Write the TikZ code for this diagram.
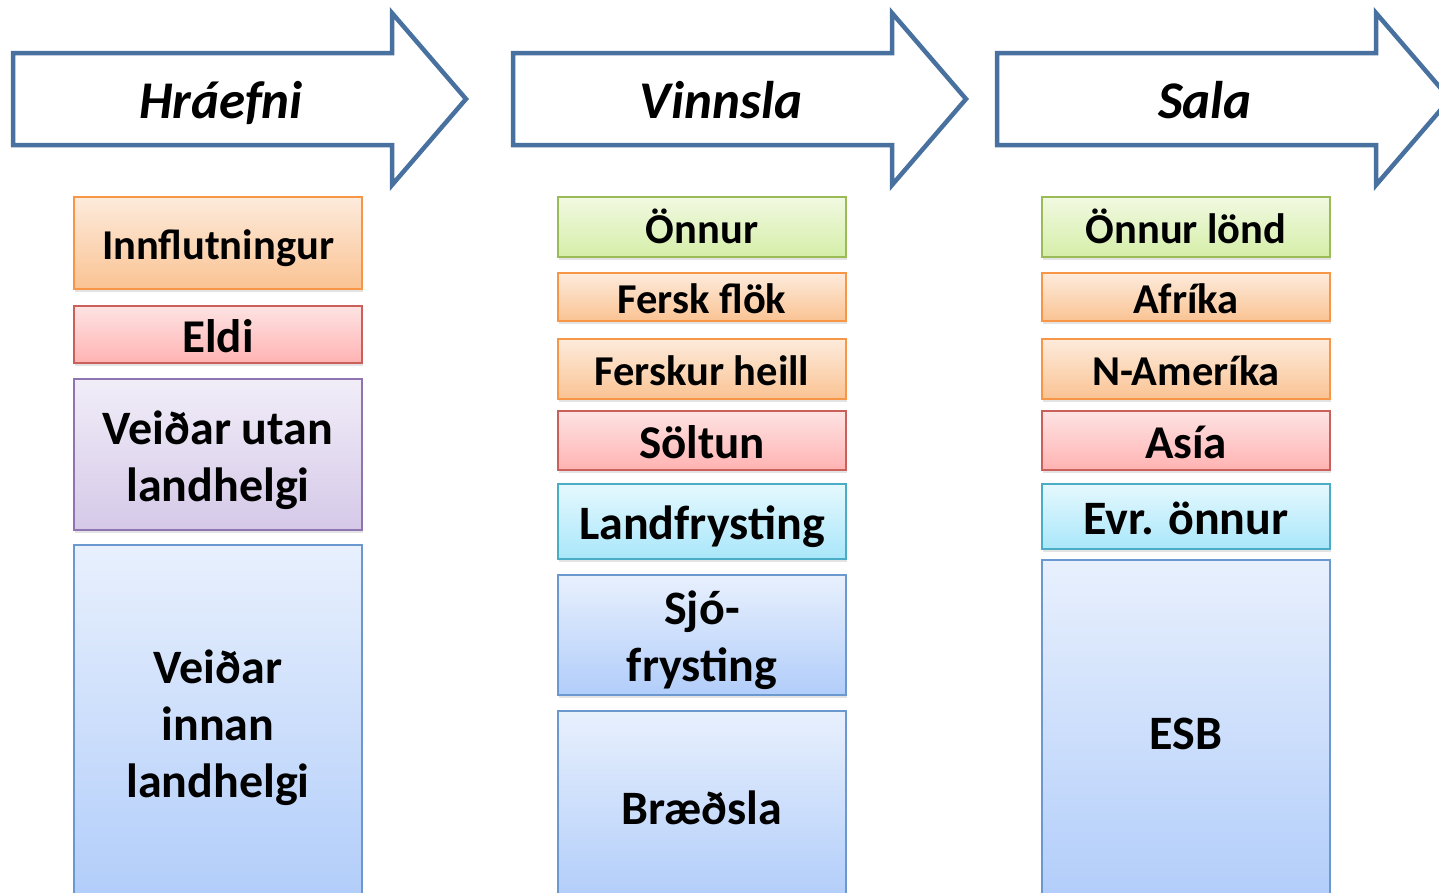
\documentclass[tikz,border=0pt]{standalone}
\usepackage{fontspec}
\setmainfont{Carlito}
\usetikzlibrary{positioning,shadows}

\definecolor{arrowline}{HTML}{48719F}
\definecolor{orangeline}{HTML}{F79646}
\definecolor{orangetop}{HTML}{FDEBDC}
\definecolor{orangebot}{HTML}{FAC393}
\definecolor{redline}{HTML}{C9605C}
\definecolor{redtop}{HTML}{FEE3E3}
\definecolor{redbot}{HTML}{FFB3B2}
\definecolor{purpleline}{HTML}{8E74B0}
\definecolor{purpletop}{HTML}{F1EDF8}
\definecolor{purplebot}{HTML}{D5C9E8}
\definecolor{greenline}{HTML}{9BBB59}
\definecolor{greentop}{HTML}{F1F9E1}
\definecolor{greenbot}{HTML}{D5EEA8}
\definecolor{cyanline}{HTML}{4BACC6}
\definecolor{cyantop}{HTML}{E5F8FE}
\definecolor{cyanbot}{HTML}{A9E7FA}
\definecolor{blueline}{HTML}{6A98CF}
\definecolor{bluetop}{HTML}{E8F0FD}
\definecolor{bluebot}{HTML}{B1CDFA}

\begin{document}
\begin{tikzpicture}[x=1pt,y=-1pt,
    every node/.style={font=\bfseries\fontsize{42.5}{57}\selectfont, align=center},
    midtext/.style={font=\bfseries\fontsize{47}{57}\selectfont, text height=42pt, text depth=6pt},
    bigtext/.style={font=\bfseries\fontsize{48}{57}\selectfont, text height=43pt, text depth=6.5pt},
    twolines/.style={text height=100pt},
    threelines/.style={text height=157pt},
    stagebox/.style={draw, line width=2pt, minimum width=288pt, inner sep=0pt, outer sep=0pt,
        text height=38pt, text depth=6pt,
        drop shadow={opacity=0.22, shadow xshift=1pt, shadow yshift=-3pt}},
    orangebox/.style={stagebox, draw=orangeline, top color=orangetop, bottom color=orangebot},
    redbox/.style={stagebox, draw=redline, top color=redtop, bottom color=redbot, midtext},
    purplebox/.style={stagebox, draw=purpleline, top color=purpletop, bottom color=purplebot, bigtext},
    greenbox/.style={stagebox, draw=greenline, top color=greentop, bottom color=greenbot},
    cyanbox/.style={stagebox, draw=cyanline, top color=cyantop, bottom color=cyanbot, bigtext},
    bluebox/.style={stagebox, draw=blueline, top color=bluetop, bottom color=bluebot, bigtext},
    stagearrow/.style={draw=arrowline, line width=4.5pt, fill=white},
    stagelabel/.style={font=\bfseries\itshape\fontsize{53}{60}\selectfont,
        text height=40pt, text depth=12pt}]

    \useasboundingbox (0,0) rectangle (1439,892);

    % arrows on top
    \foreach \L/\name/\txt in {13/hraefni/Hráefni, 513/vinnsla/Vinnsla, 997/sala/Sala}{
        \draw[stagearrow] (\L,53) -- (\L+379,53) -- (\L+379,13) -- (\L+453,99)
            -- (\L+379,185) -- (\L+379,145) -- (\L,145) -- cycle;
        \node[stagelabel] (\name) at (\L+208,104) {\txt};
    }

    % Hráefni
    \node[orangebox, anchor=north west, minimum height=92pt] (innfl) at (74,197) {Innflutningur};
    \node[redbox, below=17pt of innfl, minimum height=57pt] (eldi) {Eldi};
    \node[purplebox, twolines, below=16pt of eldi, minimum height=151pt] (utan) {Veiðar utan\\landhelgi};
    \node[bluebox, threelines, below=15pt of utan, minimum height=355pt] (innan) {Veiðar\\innan\\landhelgi};

    % Vinnsla
    \node[greenbox, anchor=north west, minimum height=60pt] (onnur) at (558,197) {Önnur};
    \node[orangebox, below=16pt of onnur, minimum height=48pt] (flok) {Fersk flök};
    \node[orangebox, below=18pt of flok, minimum height=60pt] (heill) {Ferskur heill};
    \node[redbox, below=12pt of heill, minimum height=59pt] (soltun) {Söltun};
    \node[cyanbox, below=14pt of soltun, minimum height=75pt] (landfr) {Landfrysting};
    \node[bluebox, twolines, below=16pt of landfr, minimum height=120pt] (sjofr) {Sjó-\\frysting};
    \node[bluebox, below=16pt of sjofr, minimum height=190pt] (braedsla) {Bræðsla};

    % Sala
    \node[greenbox, anchor=north west, minimum height=60pt] (onnurlond) at (1042,197) {Önnur lönd};
    \node[orangebox, below=16pt of onnurlond, minimum height=48pt] (afrika) {Afríka};
    \node[orangebox, below=18pt of afrika, minimum height=60pt] (namerika) {N-Ameríka};
    \node[redbox, below=12pt of namerika, minimum height=59pt] (asia) {Asía};
    \node[cyanbox, below=14pt of asia, minimum height=65pt] (evronnur) {Evr. önnur};
    \node[bluebox, below=11pt of evronnur, minimum height=342pt] (esb) {ESB};

\end{tikzpicture}
\end{document}
